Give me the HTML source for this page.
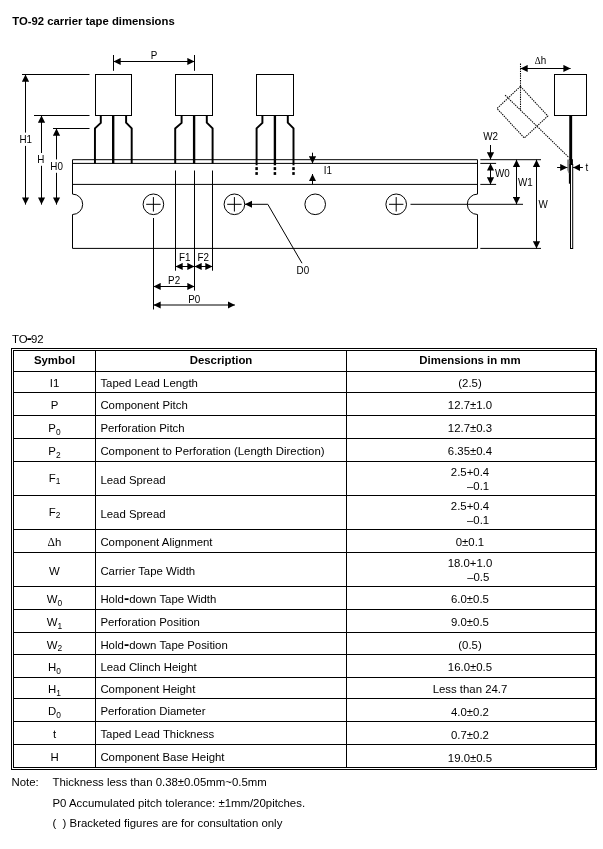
<!DOCTYPE html>
<html><head><meta charset="utf-8"><title>TO-92 carrier tape dimensions</title>
<style>
html,body{margin:0;padding:0;background:#fff;}
body{width:603px;height:849px;position:relative;overflow:hidden;will-change:transform;font-family:"Liberation Sans",sans-serif;color:#000;font-size:11.4px;}
.abs{position:absolute;white-space:nowrap;}
#title{left:12.3px;top:14.5px;font-weight:bold;font-size:11.3px;}
#cap{left:12px;top:332.5px;font-size:11.4px;}
#tbl{position:absolute;left:11px;top:348px;width:584px;height:420px;border:1px solid #000;}
#tbl .in{position:absolute;left:1px;top:1px;right:0px;bottom:1px;border:1px solid #000;}
.hl{position:absolute;left:14px;width:582px;height:1px;background:#000;}
.vl{position:absolute;top:351px;width:1px;height:416px;background:#000;}
.c{position:absolute;display:flex;align-items:center;white-space:nowrap;}
.c>span{position:relative;top:1px;}
.c.h0>span{top:-1px;}
.c.d2>span{top:2px;}
.c1{left:14px;width:81px;justify-content:center;}
.c2{left:100.4px;width:240px;justify-content:flex-start;}
.c3{left:346px;width:248px;justify-content:center;}
.c2.hd{left:96px;width:250px;justify-content:center;}
sub{font-size:8.4px;vertical-align:baseline;position:relative;top:2.5px;line-height:0;}
.two{display:inline-block;text-align:right;line-height:14px;position:relative;top:-1px;}
.l2.w{display:inline-block;margin-right:3px;}
.note{font-size:11.4px;}
.hy{font-weight:bold;font-size:15.5px;line-height:0;margin:0 0.1px;}
.dl{font-family:"Liberation Serif",serif;font-size:11.6px;}
svg text{font-family:"Liberation Sans",sans-serif;font-size:10.2px;fill:#000;}
</style></head><body>
<div id="title" class="abs">TO-92 carrier tape dimensions</div>

<svg class="abs" style="left:0;top:0" width="603" height="330" viewBox="0 0 603 330">
<defs><marker id="ah" markerWidth="8" markerHeight="8" refX="7.2" refY="4" orient="auto-start-reverse" markerUnits="userSpaceOnUse"><path d="M0,0.4 L7.2,4 L0,7.6 Z" fill="#000"/></marker></defs>
<path d="M72.5,159.7 H477.5 V194.10000000000002 A10.2,10.2 0 0 0 477.5,214.5 V248.4 H72.5 V214.5 A10.2,10.2 0 0 0 72.5,194.10000000000002 Z" stroke="#000" stroke-width="1" fill="none"/>
<path d="M72.5,163.4 H477.5 M72.5,184.4 H477.5" stroke="#000" stroke-width="1" fill="none"/>
<circle cx="153.4" cy="204.3" r="10.3" stroke="#000" stroke-width="1" fill="none"/>
<path d="M146.20000000000002,204.3 H160.6 M153.4,197.10000000000002 V211.5" stroke="#000" stroke-width="1" fill="none"/>
<circle cx="234.4" cy="204.3" r="10.3" stroke="#000" stroke-width="1" fill="none"/>
<path d="M227.20000000000002,204.3 H241.6 M234.4,197.10000000000002 V211.5" stroke="#000" stroke-width="1" fill="none"/>
<circle cx="315.2" cy="204.3" r="10.3" stroke="#000" stroke-width="1" fill="none"/>
<circle cx="396.2" cy="204.3" r="10.3" stroke="#000" stroke-width="1" fill="none"/>
<path d="M389.0,204.3 H403.4 M396.2,197.10000000000002 V211.5" stroke="#000" stroke-width="1" fill="none"/>
<rect x="95.5" y="74.5" width="36.0" height="41" stroke="#000" stroke-width="1" fill="none"/>
<path d="M100.8,115.5 V122.9 L94.95,128.4 V163.6 M126.1,115.5 V122.7 L131.7,128.4 V163.6" stroke="#000" stroke-width="1.95" fill="none" stroke-linejoin="miter"/>
<path d="M113.2,115.5 V163.6" stroke="#000" stroke-width="2.35" fill="none"/>
<rect x="175.5" y="74.5" width="37.0" height="41" stroke="#000" stroke-width="1" fill="none"/>
<path d="M181.6,115.5 V122.9 L175.2,128.4 V163.6 M206.8,115.5 V122.7 L212.6,128.4 V163.6" stroke="#000" stroke-width="1.95" fill="none" stroke-linejoin="miter"/>
<path d="M194.1,115.5 V163.6" stroke="#000" stroke-width="2.35" fill="none"/>
<rect x="256.5" y="74.5" width="37.0" height="41" stroke="#000" stroke-width="1" fill="none"/>
<path d="M262.4,115.5 V122.9 L256.6,128.4 V165.3 M287.8,115.5 V122.7 L293.5,128.4 V165.3" stroke="#000" stroke-width="1.95" fill="none" stroke-linejoin="miter"/>
<path d="M274.9,115.5 V165.3" stroke="#000" stroke-width="2.35" fill="none"/>
<rect x="255.35000000000002" y="167.1" width="2.5" height="3" fill="#000"/><rect x="255.35000000000002" y="172.1" width="2.5" height="2.8" fill="#000"/>
<rect x="273.65" y="167.1" width="2.5" height="3" fill="#000"/><rect x="273.65" y="172.1" width="2.5" height="2.8" fill="#000"/>
<rect x="292.25" y="167.1" width="2.5" height="3" fill="#000"/><rect x="292.25" y="172.1" width="2.5" height="2.8" fill="#000"/>
<path d="M113.5,55 V70.8 M194.5,55 V70.8" stroke="#000" stroke-width="1" fill="none"/>
<path d="M113.5,61.5 H194.5" stroke="#000" stroke-width="1" fill="none" marker-start="url(#ah)" marker-end="url(#ah)"/>
<text transform="translate(154.0,58.9) scale(0.965,1)" text-anchor="middle">P</text>
<path d="M22,74.5 H89.5 M34,115.5 H89.5 M53,128.5 H89.5" stroke="#000" stroke-width="1" fill="none"/>
<path d="M25.5,74.5 V204.6" stroke="#000" stroke-width="1" fill="none" marker-start="url(#ah)" marker-end="url(#ah)"/>
<path d="M41.5,115.5 V204.6" stroke="#000" stroke-width="1" fill="none" marker-start="url(#ah)" marker-end="url(#ah)"/>
<path d="M56.5,128.5 V204.6" stroke="#000" stroke-width="1" fill="none" marker-start="url(#ah)" marker-end="url(#ah)"/>
<rect x="19" y="132.6" width="14" height="13.3" fill="#fff"/><text transform="translate(19.4,142.9) scale(0.965,1)" font-size="10.8">H1</text>
<rect x="36" y="153" width="10" height="12.8" fill="#fff"/><text transform="translate(37.2,163.1) scale(0.965,1)" font-size="10.8">H</text>
<rect x="50" y="159.4" width="14" height="13.4" fill="#fff"/><text transform="translate(50.3,170.0) scale(0.965,1)" font-size="10.8">H0</text>
<path d="M175.5,170.5 V270.7 M212.5,170.5 V270.7 M194.5,170.5 V290.6 M153.5,218 V309.5" stroke="#000" stroke-width="1" fill="none"/>
<path d="M175.5,266.5 H194.5" stroke="#000" stroke-width="1" fill="none" marker-start="url(#ah)" marker-end="url(#ah)"/>
<path d="M194.5,266.5 H212.5" stroke="#000" stroke-width="1" fill="none" marker-start="url(#ah)" marker-end="url(#ah)"/>
<path d="M153.5,286.5 H194.5" stroke="#000" stroke-width="1" fill="none" marker-start="url(#ah)" marker-end="url(#ah)"/>
<path d="M153.5,305 H234.9" stroke="#000" stroke-width="1" fill="none" marker-start="url(#ah)" marker-end="url(#ah)"/>
<text transform="translate(184.8,260.8) scale(0.965,1)" text-anchor="middle">F1</text>
<text transform="translate(203.2,260.8) scale(0.965,1)" text-anchor="middle">F2</text>
<text transform="translate(174.1,283.7) scale(0.965,1)" text-anchor="middle">P2</text>
<text transform="translate(194.3,302.7) scale(0.965,1)" text-anchor="middle">P0</text>
<path d="M302,263.2 L267.8,204.3 H244.9" stroke="#000" stroke-width="1" fill="none" marker-end="url(#ah)"/>
<text transform="translate(296.6,273.5) scale(0.965,1)">D0</text>
<path d="M312.5,152.7 V163.4" stroke="#000" stroke-width="1" fill="none" marker-end="url(#ah)"/>
<path d="M312.5,184.4 V174" stroke="#000" stroke-width="1" fill="none" marker-end="url(#ah)"/>
<text transform="translate(323.8,173.7) scale(0.965,1)">I1</text>
<path d="M480.3,159.7 H541 M480.3,163.4 H496.1 M480.3,184.4 H496.1 M410.5,204.3 H523 M480.3,248.4 H541" stroke="#000" stroke-width="1" fill="none"/>
<path d="M490.5,145 V159.5" stroke="#000" stroke-width="1" fill="none" marker-end="url(#ah)"/>
<path d="M490.5,163.4 V184.4" stroke="#000" stroke-width="1" fill="none" marker-start="url(#ah)" marker-end="url(#ah)"/>
<path d="M516.5,159.7 V204.3" stroke="#000" stroke-width="1" fill="none" marker-start="url(#ah)" marker-end="url(#ah)"/>
<path d="M536.5,159.7 V248.4" stroke="#000" stroke-width="1" fill="none" marker-start="url(#ah)" marker-end="url(#ah)"/>
<text transform="translate(483.2,140.3) scale(0.965,1)">W2</text>
<text transform="translate(495.0,177.0) scale(0.965,1)">W0</text>
<text transform="translate(518.0,185.9) scale(0.965,1)">W1</text>
<text transform="translate(538.4,207.8) scale(0.965,1)">W</text>
<rect x="554.5" y="74.5" width="32" height="41" stroke="#000" stroke-width="1" fill="none"/>
<path d="M570.7,115.5 V160" stroke="#000" stroke-width="2.9" fill="none"/>
<rect x="569.2" y="159.2" width="3.7" height="5.3" fill="#000"/>
<rect x="570.5" y="164.5" width="2.2" height="84" stroke="#000" stroke-width="1" fill="#fff"/>
<rect x="568.9" y="164" width="2.1" height="19.7" fill="#000"/>
<path d="M567.2,159.4 H569.2 V174 L568.2,172.5 L567.2,170 Z" fill="#8a8a8a"/>
<path d="M557.1,167.5 H567.4" stroke="#000" stroke-width="1" fill="none" marker-end="url(#ah)"/>
<path d="M582.9,167.5 H573.1" stroke="#000" stroke-width="1" fill="none" marker-end="url(#ah)"/>
<text transform="translate(585.4,171.3) scale(0.965,1)">t</text>
<path d="M520.5,68.5 H570.6" stroke="#000" stroke-width="1" fill="none" marker-start="url(#ah)" marker-end="url(#ah)"/>
<path d="M520.5,63.6 V109.6" stroke="#000" stroke-width="1.05" fill="none" stroke-dasharray="1.4,0.95"/>
<path d="M520.4,86.4 L497,108.5 L524.3,138 L547.8,116 Z" stroke="#000" stroke-width="1.05" fill="none" stroke-dasharray="1.4,0.95"/>
<path d="M505.1,95.1 L569.3,157.9" stroke="#000" stroke-width="1.05" fill="none" stroke-dasharray="1.4,0.95"/>
<text transform="translate(534.8,64.0) scale(0.965,1)" font-size="9.3"><tspan font-family="Liberation Serif, serif" font-size="9.6">Δ</tspan>h</text>
</svg>
<div id="cap" class="abs">TO<span class="hy" style="margin:0 -0.9px">-</span>92</div>
<div id="tbl"><div class="in"></div></div>
<div class="hl" style="top:371px"></div>
<div class="hl" style="top:392px"></div>
<div class="hl" style="top:415px"></div>
<div class="hl" style="top:438px"></div>
<div class="hl" style="top:461px"></div>
<div class="hl" style="top:495px"></div>
<div class="hl" style="top:529px"></div>
<div class="hl" style="top:552px"></div>
<div class="hl" style="top:586px"></div>
<div class="hl" style="top:609px"></div>
<div class="hl" style="top:632px"></div>
<div class="hl" style="top:654px"></div>
<div class="hl" style="top:677px"></div>
<div class="hl" style="top:698px"></div>
<div class="hl" style="top:721px"></div>
<div class="hl" style="top:744px"></div>
<div class="vl" style="left:95px"></div><div class="vl" style="left:346px"></div>
<div class="c c1 h0" style="top:351px;height:20px"><span><b>Symbol</b></span></div><div class="c c2 hd h0" style="top:351px;height:20px"><span><b>Description</b></span></div><div class="c c3 h0" style="top:351px;height:20px"><span><b>Dimensions in mm</b></span></div>
<div class="c c1" style="top:372px;height:20px"><span>I1</span></div><div class="c c2" style="top:372px;height:20px"><span>Taped Lead Length</span></div><div class="c c3" style="top:372px;height:20px"><span>(2.5)</span></div>
<div class="c c1" style="top:393px;height:22px"><span>P</span></div><div class="c c2" style="top:393px;height:22px"><span>Component Pitch</span></div><div class="c c3" style="top:393px;height:22px"><span>12.7±1.0</span></div>
<div class="c c1" style="top:416px;height:22px"><span>P<sub>0</sub></span></div><div class="c c2" style="top:416px;height:22px"><span>Perforation Pitch</span></div><div class="c c3" style="top:416px;height:22px"><span>12.7±0.3</span></div>
<div class="c c1" style="top:439px;height:22px"><span>P<sub>2</sub></span></div><div class="c c2" style="top:439px;height:22px"><span>Component to Perforation (Length Direction)</span></div><div class="c c3" style="top:439px;height:22px"><span>6.35±0.4</span></div>
<div class="c c1 h0" style="top:462px;height:33px"><span>F<sub>1</sub></span></div><div class="c c2" style="top:462px;height:33px"><span>Lead Spread</span></div><div class="c c3" style="top:462px;height:33px"><span><span class='two'>2.5+0.4<br><span class='l2'>–0.1</span></span></span></div>
<div class="c c1 h0" style="top:496px;height:33px"><span>F<sub>2</sub></span></div><div class="c c2" style="top:496px;height:33px"><span>Lead Spread</span></div><div class="c c3" style="top:496px;height:33px"><span><span class='two'>2.5+0.4<br><span class='l2'>–0.1</span></span></span></div>
<div class="c c1" style="top:530px;height:22px"><span><span class='dl'>Δ</span>h</span></div><div class="c c2" style="top:530px;height:22px"><span>Component Alignment</span></div><div class="c c3" style="top:530px;height:22px"><span>0±0.1</span></div>
<div class="c c1" style="top:553px;height:33px"><span>W</span></div><div class="c c2" style="top:553px;height:33px"><span>Carrier Tape Width</span></div><div class="c c3" style="top:553px;height:33px"><span><span class='two'>18.0+1.0<br><span class='l2 w'>–0.5</span></span></span></div>
<div class="c c1" style="top:587px;height:22px"><span>W<sub>0</sub></span></div><div class="c c2" style="top:587px;height:22px"><span>Hold<span class='hy'>-</span>down Tape Width</span></div><div class="c c3" style="top:587px;height:22px"><span>6.0±0.5</span></div>
<div class="c c1" style="top:610px;height:22px"><span>W<sub>1</sub></span></div><div class="c c2" style="top:610px;height:22px"><span>Perforation Position</span></div><div class="c c3" style="top:610px;height:22px"><span>9.0±0.5</span></div>
<div class="c c1" style="top:633px;height:21px"><span>W<sub>2</sub></span></div><div class="c c2" style="top:633px;height:21px"><span>Hold<span class='hy'>-</span>down Tape Position</span></div><div class="c c3" style="top:633px;height:21px"><span>(0.5)</span></div>
<div class="c c1" style="top:655px;height:22px"><span>H<sub>0</sub></span></div><div class="c c2" style="top:655px;height:22px"><span>Lead Clinch Height</span></div><div class="c c3" style="top:655px;height:22px"><span>16.0±0.5</span></div>
<div class="c c1" style="top:678px;height:20px"><span>H<sub>1</sub></span></div><div class="c c2" style="top:678px;height:20px"><span>Component Height</span></div><div class="c c3" style="top:678px;height:20px"><span>Less than 24.7</span></div>
<div class="c c1" style="top:699px;height:22px"><span>D<sub>0</sub></span></div><div class="c c2" style="top:699px;height:22px"><span>Perforation Diameter</span></div><div class="c c3 d2" style="top:699px;height:22px"><span>4.0±0.2</span></div>
<div class="c c1" style="top:722px;height:22px"><span>t</span></div><div class="c c2" style="top:722px;height:22px"><span>Taped Lead Thickness</span></div><div class="c c3 d2" style="top:722px;height:22px"><span>0.7±0.2</span></div>
<div class="c c1" style="top:745px;height:22px"><span>H</span></div><div class="c c2" style="top:745px;height:22px"><span>Component Base Height</span></div><div class="c c3 d2" style="top:745px;height:22px"><span>19.0±0.5</span></div>
<div class="abs note" style="left:11.5px;top:776px">Note:</div>
<div class="abs note" style="left:52.5px;top:776px">Thickness less than 0.38±0.05mm~0.5mm</div>
<div class="abs note" style="left:52.5px;top:797px">P0 Accumulated pitch tolerance: ±1mm/20pitches.</div>
<div class="abs note" style="left:52.5px;top:817px">(&nbsp;&nbsp;) Bracketed figures are for consultation only</div>
</body></html>
